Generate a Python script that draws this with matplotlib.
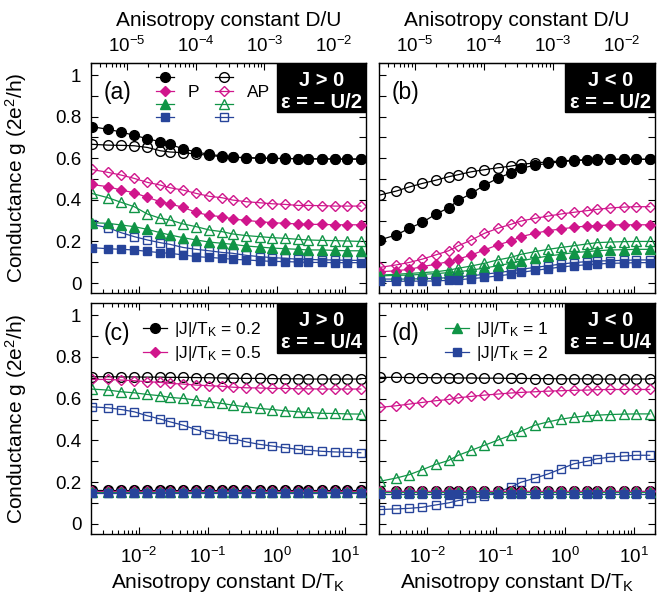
import numpy as np
import matplotlib
matplotlib.use('Agg')
import matplotlib.pyplot as plt
from matplotlib.ticker import (MultipleLocator, FuncFormatter, LogLocator, NullFormatter,
                               FixedLocator)
from matplotlib.patches import Rectangle
from matplotlib.lines import Line2D

plt.rcParams['font.family'] = ['Liberation Sans', 'DejaVu Sans']
plt.rcParams['mathtext.fontset'] = 'custom'
plt.rcParams['mathtext.rm'] = 'Liberation Sans'
plt.rcParams['mathtext.it'] = 'Liberation Sans'
plt.rcParams['mathtext.bf'] = 'Liberation Sans:bold'
plt.rcParams['mathtext.default'] = 'regular'

# ---------------- data ----------------
# anisotropy D / T_K sampling points
d_tk = [0.00204, 0.00355, 0.0055, 0.00851, 0.0132, 0.0204, 0.0282, 0.0437,
        0.0676, 0.105, 0.162, 0.229, 0.363, 0.569, 0.871, 1.33, 2.07, 2.88,
        4.52, 7.0, 10.7, 16.8]
tk_over_u = 1.5e-3            # D/U = D/T_K * T_K/U
top_ticks = [1e-5, 1e-4, 1e-3, 1e-2]
j_labels = ['|J|/T$_K$ = 0.2', '|J|/T$_K$ = 0.5', '|J|/T$_K$ = 1', '|J|/T$_K$ = 2']
colors = ['#000000', '#d0168c', '#109446', '#27449a']
markers = ['o', 'D', '^', 's']

# panel (a): J>0, eps=-U/2 ; rows: |J|/T_K = 0.2, 0.5, 1, 2
a_P = [
    [0.752, 0.739, 0.726, 0.710, 0.694, 0.679, 0.667, 0.645, 0.630, 0.619, 0.611,
     0.606, 0.602, 0.600, 0.599, 0.598, 0.598, 0.597, 0.597, 0.596, 0.596, 0.596],
    [0.474, 0.463, 0.447, 0.434, 0.412, 0.391, 0.380, 0.364, 0.340, 0.325, 0.319,
     0.308, 0.301, 0.295, 0.290, 0.287, 0.284, 0.282, 0.282, 0.280, 0.280, 0.280],
    [0.290, 0.287, 0.279, 0.271, 0.258, 0.242, 0.231, 0.218, 0.207, 0.197, 0.191,
     0.186, 0.178, 0.173, 0.168, 0.165, 0.162, 0.159, 0.159, 0.157, 0.155, 0.155],
    [0.170, 0.165, 0.162, 0.159, 0.152, 0.146, 0.143, 0.135, 0.127, 0.123, 0.119,
     0.114, 0.111, 0.107, 0.104, 0.103, 0.101, 0.099, 0.099, 0.098, 0.098, 0.098],
]
a_AP = [
    [0.667, 0.663, 0.662, 0.660, 0.652, 0.636, 0.630, 0.627, 0.620, 0.614, 0.607,
     0.604, 0.603, 0.601, 0.600, 0.599, 0.598, 0.597, 0.597, 0.596, 0.596, 0.596],
    [0.546, 0.532, 0.519, 0.503, 0.484, 0.471, 0.458, 0.447, 0.431, 0.417, 0.410,
     0.399, 0.391, 0.386, 0.381, 0.378, 0.373, 0.373, 0.372, 0.370, 0.370, 0.370],
    [0.431, 0.410, 0.388, 0.367, 0.332, 0.311, 0.303, 0.284, 0.271, 0.255, 0.247,
     0.236, 0.228, 0.223, 0.218, 0.215, 0.210, 0.207, 0.205, 0.204, 0.202, 0.200],
    [0.282, 0.266, 0.242, 0.223, 0.207, 0.194, 0.186, 0.171, 0.162, 0.155, 0.147,
     0.143, 0.133, 0.127, 0.122, 0.119, 0.114, 0.114, 0.111, 0.111, 0.109, 0.109],
]
# panel (b): J<0, eps=-U/2
b_P = [
    [0.207, 0.231, 0.263, 0.292, 0.330, 0.362, 0.397, 0.431, 0.471, 0.503, 0.530,
     0.551, 0.567, 0.575, 0.583, 0.588, 0.591, 0.593, 0.595, 0.595, 0.595, 0.595],
    [0.054, 0.059, 0.066, 0.079, 0.090, 0.103, 0.115, 0.135, 0.159, 0.183, 0.202,
     0.223, 0.239, 0.252, 0.260, 0.268, 0.274, 0.276, 0.279, 0.280, 0.280, 0.280],
    [0.034, 0.037, 0.038, 0.042, 0.045, 0.050, 0.054, 0.062, 0.072, 0.083, 0.095,
     0.107, 0.119, 0.130, 0.138, 0.146, 0.151, 0.155, 0.159, 0.160, 0.162, 0.162],
    [0.008, 0.008, 0.009, 0.009, 0.010, 0.013, 0.016, 0.021, 0.027, 0.034, 0.042,
     0.051, 0.061, 0.069, 0.077, 0.083, 0.088, 0.091, 0.095, 0.096, 0.098, 0.098],
]
b_AP = [
    [0.423, 0.442, 0.462, 0.479, 0.494, 0.511, 0.521, 0.535, 0.545, 0.554, 0.562,
     0.571, 0.577, 0.583, 0.587, 0.591, 0.593, 0.595, 0.595, 0.595, 0.595, 0.595],
    [0.075, 0.087, 0.099, 0.115, 0.135, 0.155, 0.179, 0.207, 0.239, 0.263, 0.282,
     0.298, 0.311, 0.322, 0.332, 0.340, 0.348, 0.354, 0.361, 0.365, 0.367, 0.367],
    [0.038, 0.042, 0.046, 0.050, 0.054, 0.062, 0.071, 0.082, 0.095, 0.111, 0.123,
     0.138, 0.151, 0.162, 0.171, 0.179, 0.188, 0.194, 0.197, 0.199, 0.200, 0.200],
    [0.019, 0.019, 0.019, 0.021, 0.022, 0.026, 0.030, 0.035, 0.042, 0.050, 0.058,
     0.066, 0.075, 0.083, 0.091, 0.098, 0.103, 0.106, 0.107, 0.109, 0.111, 0.111],
]
# panel (c): J>0, eps=-U/4
c_P = [
    [0.161, 0.161, 0.161, 0.161, 0.161, 0.161, 0.161, 0.161, 0.161, 0.161, 0.161,
     0.161, 0.161, 0.161, 0.161, 0.161, 0.161, 0.161, 0.161, 0.161, 0.161, 0.161],
    [0.158, 0.158, 0.158, 0.158, 0.158, 0.158, 0.158, 0.158, 0.158, 0.158, 0.158,
     0.158, 0.158, 0.158, 0.158, 0.158, 0.158, 0.158, 0.158, 0.158, 0.158, 0.158],
    [0.155, 0.155, 0.155, 0.155, 0.155, 0.155, 0.155, 0.155, 0.155, 0.155, 0.155,
     0.155, 0.155, 0.155, 0.155, 0.155, 0.155, 0.155, 0.155, 0.155, 0.155, 0.155],
    [0.147, 0.147, 0.147, 0.147, 0.147, 0.147, 0.147, 0.147, 0.147, 0.147, 0.147,
     0.147, 0.147, 0.147, 0.147, 0.147, 0.147, 0.147, 0.147, 0.147, 0.147, 0.147],
]
c_AP = [
    [0.705, 0.705, 0.704, 0.704, 0.703, 0.703, 0.702, 0.702, 0.701, 0.700, 0.699,
     0.698, 0.697, 0.697, 0.696, 0.695, 0.695, 0.694, 0.694, 0.694, 0.694, 0.694],
    [0.692, 0.692, 0.689, 0.686, 0.681, 0.678, 0.673, 0.670, 0.665, 0.662, 0.659,
     0.655, 0.652, 0.651, 0.649, 0.649, 0.647, 0.647, 0.646, 0.646, 0.646, 0.646],
    [0.646, 0.641, 0.633, 0.628, 0.620, 0.614, 0.606, 0.601, 0.593, 0.585, 0.577,
     0.569, 0.561, 0.553, 0.548, 0.542, 0.537, 0.534, 0.530, 0.529, 0.527, 0.526],
    [0.561, 0.556, 0.548, 0.537, 0.518, 0.502, 0.489, 0.473, 0.452, 0.433, 0.420,
     0.409, 0.393, 0.381, 0.373, 0.365, 0.357, 0.353, 0.348, 0.345, 0.343, 0.341],
]
# panel (d): J<0, eps=-U/4
d_P = [
    [0.160, 0.160, 0.160, 0.160, 0.160, 0.160, 0.160, 0.160, 0.160, 0.160, 0.160,
     0.160, 0.160, 0.160, 0.160, 0.160, 0.160, 0.160, 0.160, 0.160, 0.160, 0.160],
    [0.157, 0.157, 0.157, 0.157, 0.157, 0.157, 0.157, 0.157, 0.157, 0.157, 0.157,
     0.157, 0.157, 0.157, 0.157, 0.157, 0.157, 0.157, 0.157, 0.157, 0.157, 0.157],
    [0.154, 0.154, 0.154, 0.154, 0.154, 0.154, 0.154, 0.154, 0.154, 0.154, 0.154,
     0.154, 0.154, 0.154, 0.154, 0.154, 0.154, 0.154, 0.154, 0.154, 0.154, 0.154],
    [0.145, 0.145, 0.145, 0.145, 0.145, 0.145, 0.145, 0.145, 0.145, 0.145, 0.145,
     0.145, 0.145, 0.145, 0.145, 0.145, 0.145, 0.145, 0.145, 0.145, 0.145, 0.145],
]
d_AP = [
    [0.702, 0.702, 0.701, 0.701, 0.700, 0.700, 0.699, 0.699, 0.698, 0.698, 0.697,
     0.697, 0.696, 0.696, 0.695, 0.695, 0.695, 0.694, 0.694, 0.694, 0.694, 0.694],
    [0.558, 0.566, 0.574, 0.582, 0.590, 0.596, 0.604, 0.611, 0.617, 0.622, 0.627,
     0.630, 0.633, 0.636, 0.638, 0.640, 0.641, 0.643, 0.644, 0.644, 0.644, 0.644],
    [0.204, 0.220, 0.236, 0.260, 0.285, 0.304, 0.329, 0.353, 0.377, 0.401, 0.425,
     0.444, 0.473, 0.489, 0.502, 0.511, 0.518, 0.521, 0.524, 0.526, 0.527, 0.527],
    [0.069, 0.072, 0.075, 0.080, 0.091, 0.101, 0.112, 0.123, 0.136, 0.152, 0.176,
     0.200, 0.219, 0.240, 0.264, 0.288, 0.300, 0.312, 0.320, 0.325, 0.329, 0.329],
]
panel_tags = ['(a)', '(b)', '(c)', '(d)']
box_texts = [('J > 0', 'ε = – U/2'), ('J < 0', 'ε = – U/2'),
             ('J > 0', 'ε = – U/4'), ('J < 0', 'ε = – U/4')]

# ---------------- figure ----------------
W, H = 666, 593
fig = plt.figure(figsize=(W / 100, H / 100), dpi=100)

def frac(l, t, r, b):
    return [l / W, 1 - b / H, (r - l) / W, (b - t) / H]

axes = [fig.add_axes(frac(91, 63, 366, 293)), fig.add_axes(frac(379, 63, 655, 293)),
        fig.add_axes(frac(91, 303, 366, 534)), fig.add_axes(frac(379, 303, 655, 534))]
panel_data = [(a_P, a_AP), (b_P, b_AP), (c_P, c_AP), (d_P, d_AP)]

TICK_FS = 13.5
LAB_FS = 15
msize = {'o': 7.0, 'D': 5.0, '^': 7.2, 's': 6.2}

def yfmt(v, pos):
    k = round(v / 0.2)
    if abs(v / 0.2 - k) < 1e-6:
        return f'{round(v, 1):g}'
    return ''

def top_fmt(v, pos):
    return r'$10^{%d}$' % int(round(np.log10(v)))

for i, ax in enumerate(axes):
    P, AP = panel_data[i]
    for j in range(4):
        ax.plot(d_tk, AP[j], color=colors[j], lw=0.9, marker=markers[j],
                ms=msize[markers[j]], mfc='none', mec=colors[j], mew=1.0, zorder=2)
    for j in range(4):
        ax.plot(d_tk, P[j], color=colors[j], lw=0.9, marker=markers[j],
                ms=msize[markers[j]], mfc=colors[j], mec=colors[j], mew=1.0, zorder=3)
    ax.set_xscale('log')
    ax.set_xlim(0.002, 20)
    ax.set_ylim(-0.048, 1.058)
    ax.yaxis.set_major_locator(MultipleLocator(0.1))
    ax.yaxis.set_major_formatter(FuncFormatter(yfmt))
    ax.xaxis.set_major_locator(LogLocator(base=10))
    ax.xaxis.set_minor_locator(LogLocator(base=10, subs=np.arange(2, 10)))
    ax.xaxis.set_minor_formatter(NullFormatter())
    top_row = i < 2
    ax.tick_params(axis='both', which='both', direction='in', right=True,
                   top=not top_row, labelsize=TICK_FS)
    ax.tick_params(axis='x', pad=9)
    ax.tick_params(axis='y', pad=7)
    ax.tick_params(which='major', length=5, width=0.8)
    ax.tick_params(which='minor', length=2.8, width=0.8)
    for s in ax.spines.values():
        s.set_linewidth(1.0)
    if i % 2 == 1:
        ax.tick_params(axis='y', labelleft=False)
    else:
        ax.set_ylabel('Conductance g (2e$^2$/h)', fontsize=LAB_FS)
        ax.yaxis.set_label_coords(-0.225, 0.5)
    if top_row:
        ax.tick_params(axis='x', labelbottom=False)
        sec = ax.secondary_xaxis('top', functions=(lambda v: v * tk_over_u,
                                                   lambda v: v / tk_over_u))
        sec.xaxis.set_major_locator(FixedLocator(top_ticks))
        sec.xaxis.set_major_formatter(FuncFormatter(top_fmt))
        sec.xaxis.set_minor_locator(LogLocator(base=10, subs=np.arange(2, 10)))
        sec.xaxis.set_minor_formatter(NullFormatter())
        sec.tick_params(which='both', direction='in', labelsize=TICK_FS, pad=5)
        sec.tick_params(which='major', length=5, width=0.8)
        sec.tick_params(which='minor', length=2.8, width=0.8)
        sec.set_xlabel('Anisotropy constant D/U', fontsize=LAB_FS, labelpad=7)
    else:
        ax.set_xlabel('Anisotropy constant D/T$_K$', fontsize=LAB_FS, labelpad=3)

    # panel tag
    ax.text(0.095, 0.87, panel_tags[i], transform=ax.transAxes, fontsize=16.5,
            ha='center', va='center')
    # black info box
    ax.add_patch(Rectangle((0.675, 0.785), 0.325, 0.215, transform=ax.transAxes,
                           facecolor='black', edgecolor='black', zorder=5))
    ax.text(0.838, 0.925, box_texts[i][0], transform=ax.transAxes, color='white',
            fontsize=14.5, fontweight='bold', ha='center', va='center', zorder=6)
    ax.text(0.838, 0.83, box_texts[i][1], transform=ax.transAxes, color='white',
            fontsize=14.5, fontweight='bold', ha='center', va='center', zorder=6)

# legend panel (a)
handles = []
labels = []
for j in range(4):
    handles.append(Line2D([], [], color=colors[j], lw=0.9, marker=markers[j],
                          ms=msize[markers[j]], mfc=colors[j], mec=colors[j]))
    labels.append('P' if j == 1 else '')
for j in range(4):
    handles.append(Line2D([], [], color=colors[j], lw=0.9, marker=markers[j],
                          ms=msize[markers[j]], mfc='none', mec=colors[j]))
    labels.append('AP' if j == 1 else '')
axes[0].legend(handles, labels, ncol=2, frameon=False, loc='upper left',
               bbox_to_anchor=(0.235, 0.965), borderpad=0, borderaxespad=0,
               fontsize=12.5, handlelength=1.05, handletextpad=0.8,
               columnspacing=0.9, labelspacing=-0.1)

# legends panels (c), (d)
for k, (ax, idx) in enumerate([(axes[2], [0, 1]), (axes[3], [2, 3])]):
    hs = [Line2D([], [], color=colors[j], lw=0.9, marker=markers[j],
                 ms=msize[markers[j]], mfc=colors[j], mec=colors[j]) for j in idx]
    ax.legend(hs, [j_labels[j] for j in idx], frameon=False, loc='upper left',
              bbox_to_anchor=(0.19 if k == 0 else 0.24, 0.925), borderpad=0,
              borderaxespad=0, fontsize=12.5, handlelength=1.35,
              handletextpad=0.4, labelspacing=0.25)

fig.savefig('out.png', dpi=100)
